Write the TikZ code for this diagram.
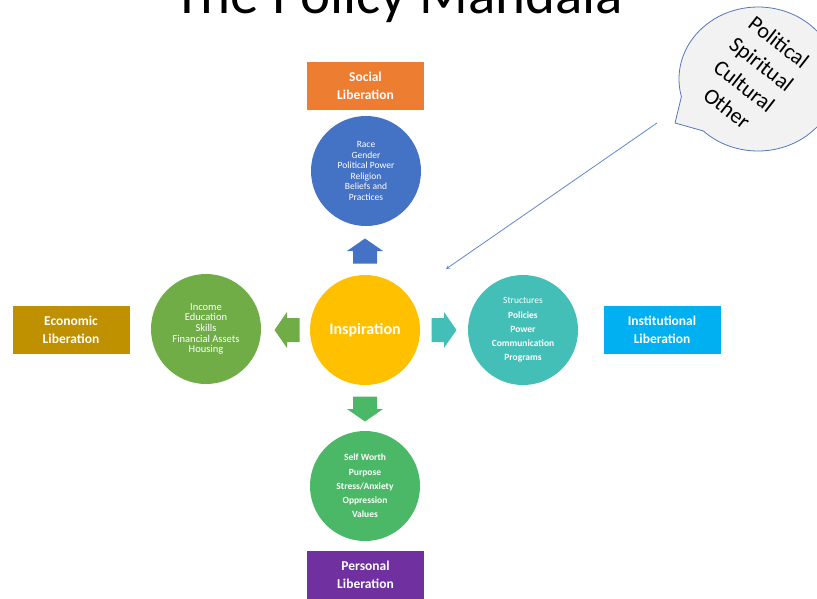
\documentclass[tikz,border=0pt]{standalone}
\usepackage{fontspec}
\setmainfont{Carlito}
\usetikzlibrary{shapes.callouts,positioning}
\definecolor{socialcolor}{HTML}{ED7D31}
\definecolor{socialdisc}{HTML}{4472C4}
\definecolor{econcolor}{HTML}{BF9000}
\definecolor{econdisc}{HTML}{70AD47}
\definecolor{instcolor}{HTML}{00B0F0}
\definecolor{instdisc}{HTML}{43BFB7}
\definecolor{perscolor}{HTML}{7030A0}
\definecolor{persdisc}{HTML}{4AB866}
\definecolor{inspcolor}{HTML}{FFC000}
\definecolor{bubblefill}{HTML}{F2F2F2}
\definecolor{bubbleline}{HTML}{5677B8}

\begin{document}
\begin{tikzpicture}[x=1pt,y=-1pt,
        disc/.style={circle,minimum size=110pt,inner sep=0pt,text=white,align=center,
          font=\fontsize{9.5}{10.6}\selectfont},
        tag/.style={rectangle,minimum width=117pt,minimum height=48pt,inner sep=0pt,
          text=white,align=center,font=\fontsize{13.5}{18}\selectfont\bfseries},
        ]
        \useasboundingbox (0,0) rectangle (817,598);
        \node at (398,13) [anchor=base,font=\fontsize{57}{60}\selectfont] (title) {The Policy Mandala};
        % the four discs round the centre
        \node[disc,fill=inspcolor,font=\fontsize{16}{18}\selectfont\bfseries] (insp) at (365,330) {Inspiration};
        \node[disc,fill=socialdisc] (social) at (366,171) {Race\\Gender\\Political Power\\Religion\\Beliefs and\\Practices};
        \node[disc,fill=econdisc,font=\fontsize{10.5}{10.7}\selectfont] (econ) at (206,329) {Income\\Education\\Skills\\Financial Assets\\Housing};
        \node[disc,fill=instdisc,font=\fontsize{9.5}{14.2}\selectfont\bfseries] (inst) at (523,330) {\mdseries Structures\\Policies\\Power\\Communication\\Programs};
        \node[disc,fill=persdisc,font=\fontsize{9.5}{14.3}\selectfont\bfseries] (pers) at (365,486) {Self Worth\\Purpose\\Stress/Anxiety\\Oppression\\Values};
        % labels
        \node[tag,fill=socialcolor] (socialtag) at (365.5,86) {Social\\Liberation};
        \node[tag,fill=econcolor] (econtag) at (71,329.5) {Economic\\Liberation};
        \node[tag,fill=instcolor] (insttag) at (662,329.5) {Institutional\\Liberation};
        \node[tag,fill=perscolor] (perstag) at (365.5,575) {Personal\\Liberation};
        % block arrows
        \foreach \ang/\col/\px/\py in {90/socialdisc/365/251,180/econdisc/287/330,0/instdisc/444/330,270/persdisc/365/409}
          \fill[\col,shift={(\px,\py)},rotate=\ang] (-12.5,-12) -- (0,-12) -- (0,-18) -- (12.5,0) -- (0,18) -- (0,12) -- (-12.5,12) -- cycle;
        % speech bubble
        \node[ellipse callout,draw=bubbleline,line width=0.8pt,fill=bubblefill,minimum width=158pt,minimum height=144pt,
          inner sep=0pt,callout absolute pointer={(675,123)},callout pointer arc=32] (bubble) at (758,79) {};
        \node[rotate=-38,align=center,font=\fontsize{22}{28}\selectfont] (bubbletext)
          at ([xshift=-5pt,yshift=4pt]bubble.center) {Political\\Spiritual\\Cultural\\Other};
        \coordinate (bubbleend) at (657,123);
        \coordinate (aim) at (446,269);
        \draw[socialdisc!85,line width=0.8pt,-stealth] (bubbleend) -- (aim);
      \end{tikzpicture}
\end{document}
